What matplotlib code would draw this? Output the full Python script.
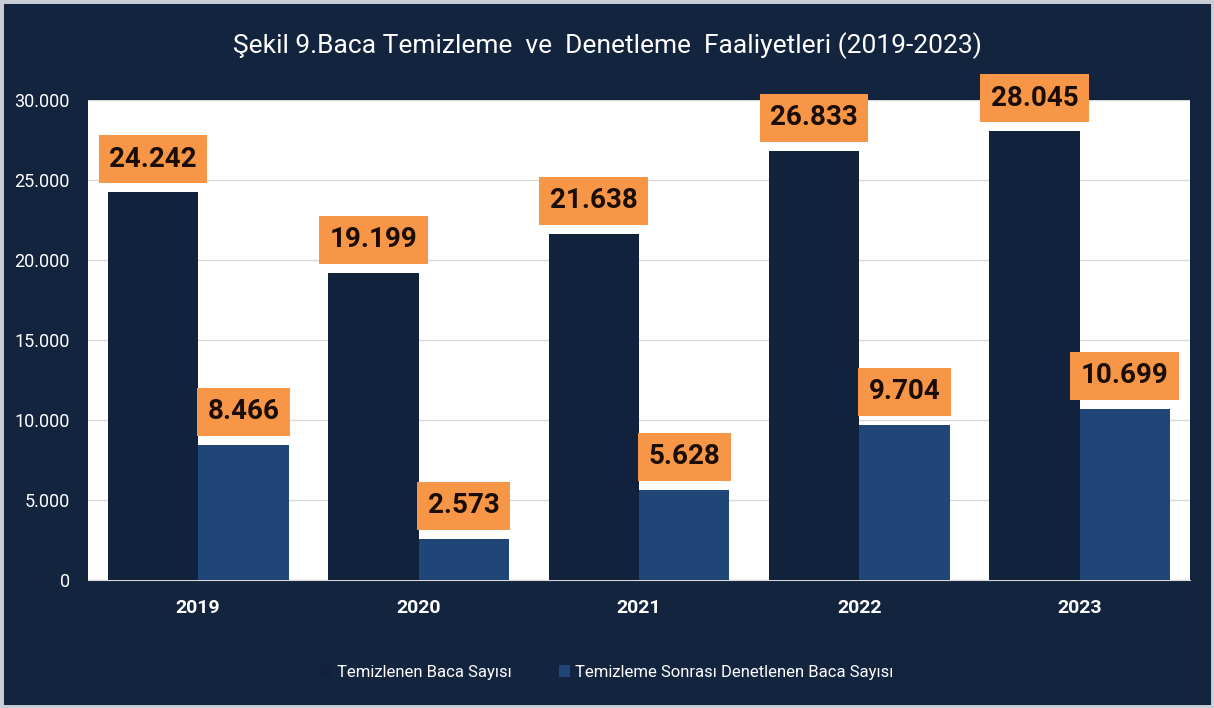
import numpy as np
import matplotlib.pyplot as plt
from matplotlib.patches import Rectangle

years = ["2019", "2020", "2021", "2022", "2023"]
temizlenen = [24242, 19199, 21638, 26833, 28045]
denetlenen = [8466, 2573, 5628, 9704, 10699]
series_names = ["Temizlenen Baca Sayısı", "Temizleme Sonrası Denetlenen Baca Sayısı"]
yticks = [0, 5000, 10000, 15000, 20000, 25000, 30000]

bg = "#13243f"
dark = "#11223d"
blue = "#1f4677"
orange = "#f79646"
fam = ["Roboto", "DejaVu Sans"]


def fmt(v):
    return "{:,}".format(v).replace(",", ".")


fig = plt.figure(figsize=(12.14, 7.08), dpi=100, facecolor=bg)
fig.patches.append(Rectangle((0, 0), 1, 1, transform=fig.transFigure,
                             facecolor="none", edgecolor="#c9ced6", linewidth=5))
ax = fig.add_axes([0.0725, 0.1808, 0.9075, 0.678])
ax.set_facecolor("white")

x = np.arange(len(years))
w = 0.41
b1 = ax.bar(x - w / 2, temizlenen, w, color=dark, label=series_names[0], zorder=3)
b2 = ax.bar(x + w / 2, denetlenen, w, color=blue, label=series_names[1], zorder=3)

for bars, vals in [(b1, temizlenen), (b2, denetlenen)]:
    for rect, v in zip(bars, vals):
        ax.annotate(fmt(v), (rect.get_x() + rect.get_width() / 2, v),
                    xytext=(0, 14), textcoords="offset points",
                    ha="center", va="bottom", fontsize=20, fontweight="bold",
                    family=fam, color="#1a0d05", zorder=5,
                    bbox=dict(boxstyle="square,pad=0.38", facecolor=orange,
                              edgecolor="none"))

ax.set_xlim(-0.5, len(years) - 0.5)
ax.set_ylim(0, 30000)
ax.set_yticks(yticks)
ax.set_yticklabels([fmt(t) for t in yticks], color="white", fontsize=13, family=fam)
ax.set_xticks(x)
ax.set_xticklabels(years, color="white", fontsize=14, fontweight="bold", family=fam)
ax.tick_params(axis="both", length=0)
ax.tick_params(axis="y", pad=13)
ax.tick_params(axis="x", pad=14)
ax.grid(axis="y", color="#d9d9d9", linewidth=1, zorder=0)
for s in ["top", "right", "left"]:
    ax.spines[s].set_visible(False)
ax.spines["bottom"].set_color("#d9d9d9")

fig.text(0.5, 0.935, "Şekil 9.Baca Temizleme  ve  Denetleme  Faaliyetleri (2019-2023)",
         ha="center", va="center", color="white", fontsize=19, family=fam)

leg = fig.legend(handles=[b1, b2], loc="center", bbox_to_anchor=(0.5, 0.05), ncol=2,
                 frameon=False, handlelength=0.7, handleheight=0.7, handletextpad=0.3,
                 columnspacing=2.8, prop={"family": fam, "size": 12})
for t in leg.get_texts():
    t.set_color("white")

fig.savefig("out.png", dpi=100, facecolor=bg)
